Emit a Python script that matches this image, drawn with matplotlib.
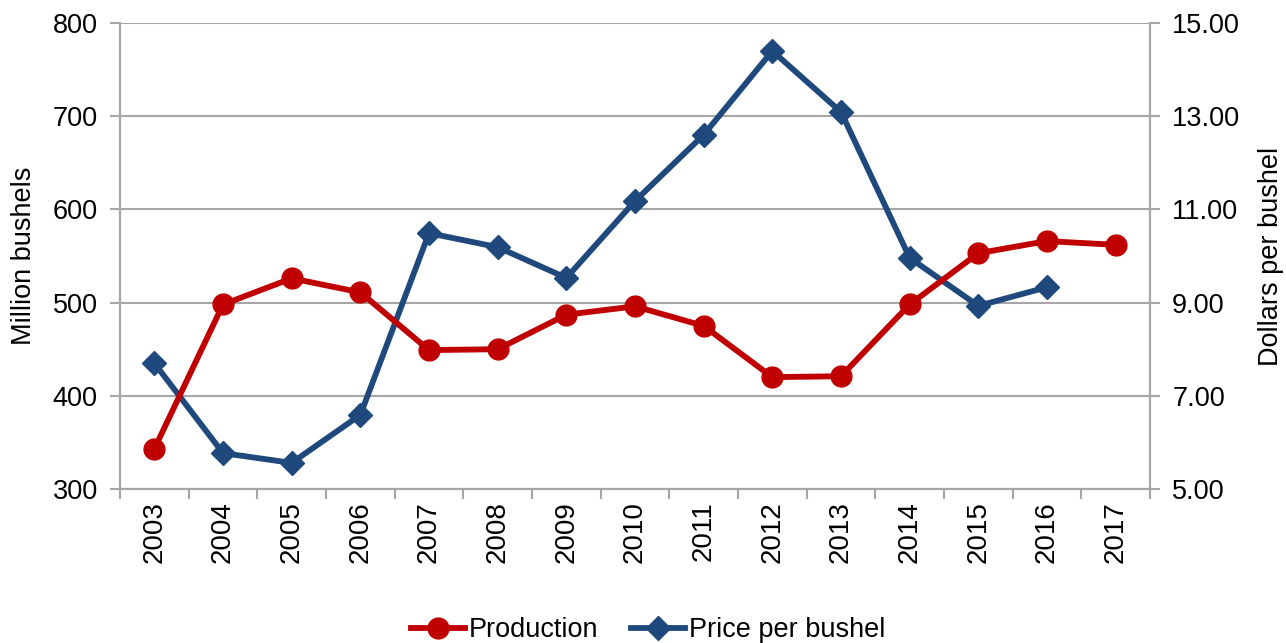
import matplotlib.pyplot as plt

# Values
years = ['2003', '2004', '2005', '2006', '2007', '2008', '2009', '2010',
         '2011', '2012', '2013', '2014', '2015', '2016', '2017']
production = [343, 498, 526, 511, 449, 450, 487, 496, 475, 420, 421, 498, 553, 566, 562]
price = [7.70, 5.77, 5.56, 6.59, 10.49, 10.19, 9.53, 11.18, 12.60, 14.40,
         13.09, 9.96, 8.93, 9.33, None]

RED = '#C00000'
BLUE = '#1F497D'
GRID = '#A6A6A6'

plt.rcParams['font.family'] = ['Liberation Sans', 'DejaVu Sans']

fig = plt.figure(figsize=(12.86, 6.43), dpi=100)
ax = fig.add_axes([120 / 1286, 1 - 489 / 643, 1030 / 1286, 466 / 643])
ax2 = ax.twinx()

x = list(range(len(years)))
ax.set_ylim(300, 800)
ax.set_yticks([300, 400, 500, 600, 700, 800])
ax.set_xlim(-0.5, len(years) - 0.5)
ax.grid(axis='y', color=GRID, linewidth=1.5)
ax.set_axisbelow(True)

ax2.set_ylim(5, 15)
ax2.set_yticks([5, 7, 9, 11, 13, 15])
ax2.set_yticklabels([f'{v:.2f}' for v in [5, 7, 9, 11, 13, 15]])

# price has no 2017 value
price_x = [i for i, p in zip(x, price) if p is not None]
price_y = [p for p in price if p is not None]
ln2, = ax2.plot(price_x, price_y, color=BLUE, linewidth=4.2, marker='D',
                markersize=12, label='Price per bushel')
# production drawn on ax2 so it sits above the price line; map 300-800 -> 5-15
ln1, = ax2.plot(x, [(p - 300) / 50 + 5 for p in production], color=RED, linewidth=4.2,
                marker='o', markersize=15, label='Production')

ax.set_xticks([i + 0.5 for i in range(-1, len(years))], minor=False)
ax.set_xticklabels([''] * (len(years) + 1))
ax.set_xticks(x, minor=True)
ax.set_xticklabels(years, minor=True, rotation=90, fontsize=20)
ax.tick_params(axis='x', which='major', length=7, color=GRID, width=1.5)
ax.tick_params(axis='x', which='minor', length=0, pad=9)
ax.tick_params(axis='y', length=7, color=GRID, width=1.5, labelsize=19.5, pad=9)
ax2.tick_params(axis='y', length=7, color=GRID, width=1.5, labelsize=19.5, pad=9)

for a in (ax, ax2):
    a.spines['top'].set_visible(False)
    for s in ('left', 'right', 'bottom'):
        a.spines[s].set_color(GRID)
        a.spines[s].set_linewidth(1.5)

ax.set_ylabel('Million bushels', fontsize=19.5, labelpad=11)
ax2.set_ylabel('Dollars per bushel', fontsize=19.5, labelpad=13)

fig.legend([ln1, ln2], ['Production', 'Price per bushel'], loc='center',
           bbox_to_anchor=(648 / 1286, 1 - 630 / 643), ncol=2, frameon=False,
           fontsize=19.5, handlelength=2.0, columnspacing=1.2, handletextpad=0.15)

fig.savefig('out.png', dpi=100)
